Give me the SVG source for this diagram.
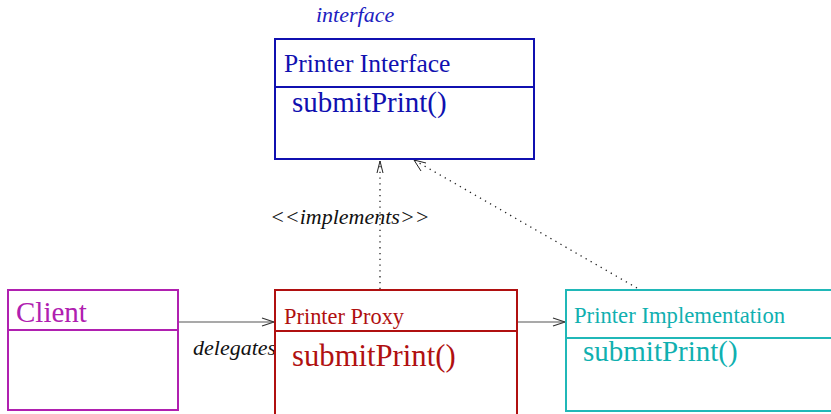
<svg xmlns="http://www.w3.org/2000/svg" width="831" height="414" viewBox="0 0 831 414">
<style>
text{font-family:"Liberation Serif","Times New Roman",serif}
.it{font-family:"Liberation Serif",serif;font-style:italic}
.box{fill:none;stroke-width:2}
.con{fill:none;stroke:#555;stroke-width:1.2}
.dot{fill:none;stroke:#222;stroke-width:1.3;stroke-dasharray:1.3 4.5}
</style>
<defs>
<marker id="open" markerWidth="14" markerHeight="10" refX="13" refY="5" orient="auto" markerUnits="userSpaceOnUse">
<path d="M1,1 L13,5 L1,9" fill="none" stroke="#333" stroke-width="1.2"/>
</marker>
</defs>
<rect width="831" height="414" fill="#fff"/>
<g id="connectors">
<line class="con" x1="178" y1="322" x2="274" y2="322" marker-end="url(#open)"/>
<line class="con" x1="517" y1="322" x2="565" y2="322" marker-end="url(#open)"/>
<line class="dot" x1="380" y1="289" x2="380" y2="161"/>
<path d="M377,173 L380,161 L383,173" fill="none" stroke="#222" stroke-width="1"/>
<line class="dot" x1="637" y1="288" x2="414" y2="160"/>
<path d="M421,171 L414,160 L426,163" fill="none" stroke="#222" stroke-width="1"/>
<text class="it" x="270" y="224" font-size="22" fill="#111">&lt;&lt;implements&gt;&gt;</text>
<text class="it" x="193" y="355" font-size="22" fill="#111">delegates</text>
</g>
<g id="printer-interface">
<text class="it" x="316" y="22" font-size="22" fill="#2020c0">interface</text>
<rect class="box" x="275" y="39" width="259" height="120" stroke="#1010b0"/>
<line x1="275" y1="87" x2="534" y2="87" stroke="#1010b0" stroke-width="2"/>
<text x="284" y="72" font-size="25.5" fill="#1010b0">Printer Interface</text>
<text x="292" y="112" font-size="29" fill="#1010b0">submitPrint()</text>
</g>
<g id="client">
<rect class="box" x="8" y="290" width="170" height="120" stroke="#b020b0"/>
<line x1="8" y1="330" x2="178" y2="330" stroke="#b020b0" stroke-width="2"/>
<text x="16" y="322" font-size="29" fill="#b020b0">Client</text>
</g>
<g id="printer-proxy">
<rect class="box" x="275" y="290" width="242" height="140" stroke="#b01010"/>
<line x1="275" y1="331" x2="517" y2="331" stroke="#b01010" stroke-width="2"/>
<text x="284" y="324" font-size="22.4" fill="#b01010">Printer Proxy</text>
<text x="292" y="366" font-size="30.7" fill="#b01010">submitPrint()</text>
</g>
<g id="printer-implementation">
<rect class="box" x="566" y="290" width="280" height="121" stroke="#20b8b8"/>
<line x1="566" y1="338" x2="831" y2="338" stroke="#20b8b8" stroke-width="2"/>
<text x="574" y="323" font-size="22.7" fill="#10b0b0">Printer Implementation</text>
<text x="583" y="361" font-size="29" fill="#10b0b0">submitPrint()</text>
</g>
</svg>
